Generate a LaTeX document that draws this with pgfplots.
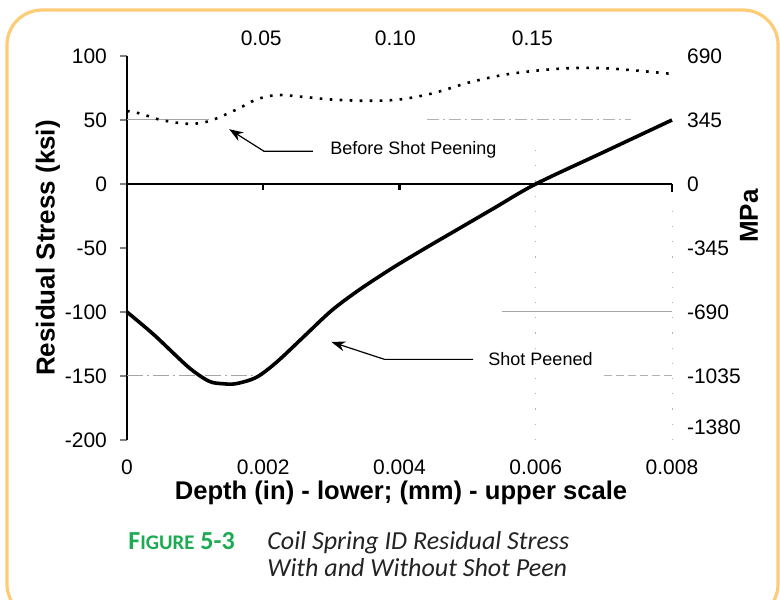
\documentclass[border=0pt]{standalone}
\usepackage{fontspec}
\setmainfont{Liberation Sans}
\newfontfamily\capfont{Carlito}
\usepackage{pgfplots}
\usepackage{pgfplotstable}
\pgfplotsset{compat=1.18}
\usetikzlibrary{arrows.meta}
\definecolor{framecol}{RGB}{254,204,118}
\definecolor{figgreen}{RGB}{28,170,82}
\definecolor{capgray}{RGB}{35,35,35}

% depth (in), residual stress (ksi)
\pgfplotstableread{
d s
0 -100
0.0004 -118
0.0009 -143
0.0012 -154
0.0014 -156
0.0016 -156
0.0019 -151
0.0022 -139
0.0026 -119
0.0030 -99
0.0034 -83
0.0039 -65.5
0.0044 -49.5
0.0049 -34
0.0054 -18.5
0.0060 0
0.0070 25
0.0080 50
}\peened

\pgfplotstableread{
d s
0 57
0.0002 55
0.0005 50
0.0009 47
0.0012 49
0.0016 58
0.0019 66
0.0022 69.5
0.0026 68
0.0030 66
0.0035 65
0.0040 66
0.0045 71
0.0050 79
0.0055 85
0.0060 88.5
0.0065 90.5
0.0070 90.5
0.0075 88.5
0.0080 86
}\before

\begin{document}
\begin{tikzpicture}[x=0.5pt,y=0.5pt]
\clip (0,0) rectangle (780,599);
\draw[framecol, line width=1.6pt, rounded corners=17.5pt] (7,-20) rectangle (778,589);

\begin{axis}[
  at={(63.5pt,79.5pt)}, anchor=south west,
  scale only axis, width=272.5pt, height=192pt,
  xmin=0, xmax=0.008, ymin=-200, ymax=100,
  clip=false, scaled x ticks=false, scaled y ticks=false,
  axis x line*=bottom, x axis line style={draw=none},
  axis y line*=left, y axis line style={line width=1.4pt},
  xtick={0,0.002,0.004,0.006,0.008},
  xticklabels={0,0.002,0.004,0.006,0.008},
  xtick style={draw=none},
  xticklabel style={yshift=-3pt},
  ytick={-200,-150,-100,-50,0,50,100},
  yticklabels={-200,-150,-100,-50,0,50,100},
  tick align=outside, major tick length=3.5pt,
  ytick style={line width=1.2pt},
  yticklabel style={xshift=-3pt},
  tick label style={font=\fontsize{10.5}{12}\selectfont},
  /pgf/number format/assume math mode=true,
]
% faint grid remnants of the scanned original
\addplot[gray!70, line width=0.5pt] coordinates {(0,50) (0.0012,50)};
\addplot[gray!60, line width=0.5pt, dash pattern=on 6pt off 2pt on 1pt off 2pt] coordinates {(0.0044,50) (0.0074,50)};
\addplot[gray!70, line width=0.5pt] coordinates {(0.0055,-100) (0.008,-100)};
\addplot[gray!70, line width=0.5pt, dash pattern=on 8pt off 2pt on 1pt off 2pt] coordinates {(0,-150) (0.002,-150)};
\addplot[gray!60, line width=0.5pt, dash pattern=on 4pt off 2pt] coordinates {(0.0070,-150) (0.008,-150)};
\addplot[gray!60, line width=0.5pt, dash pattern=on 0.6pt off 7pt] coordinates {(0.006,-200) (0.006,30)};
\addplot[gray!60, line width=0.5pt, dash pattern=on 0.6pt off 7pt] coordinates {(0.008,-200) (0.008,-10)};
% zero line and its ticks
\addplot[black, line width=1.4pt] coordinates {(0,0) (0.008,0)};
\addplot[black, line width=1.1pt, ycomb] coordinates {(0.002,-5) (0.004,-5) (0.008,-6)};
% data
\addplot[black, line width=1.3pt, dash pattern=on 1.3pt off 3.7pt, smooth] table[x=d, y=s] {\before};
\addplot[black, line width=1.8pt, smooth] table[x=d, y=s] {\peened};
% annotations
\draw[-{Stealth[length=7pt,width=5pt]}, line width=0.6pt]
  (axis cs:0.00273,25.6) -- (axis cs:0.00201,25.6) -- (axis cs:0.0015,42.8);
\node[anchor=west, inner sep=0pt, font=\fontsize{9}{10}\selectfont] at (axis cs:0.00298,26.5) {Before Shot Peening};
\draw[-{Stealth[length=7pt,width=5pt]}, line width=0.6pt]
  (axis cs:0.00508,-137) -- (axis cs:0.00378,-137) -- (axis cs:0.0030,-123.4);
\node[anchor=west, inner sep=0pt, font=\fontsize{9}{10}\selectfont] at (axis cs:0.0053,-136.5) {Shot Peened};
\end{axis}

% secondary scales: MPa on the right, mm on top
\begin{axis}[
  at={(63.5pt,79.5pt)}, anchor=south west,
  scale only axis, width=272.5pt, height=192pt,
  xmin=0, xmax=0.008, ymin=-200, ymax=100,
  scaled x ticks=false, scaled y ticks=false,
  axis x line*=top, x axis line style={draw=none},
  axis y line*=right, y axis line style={draw=none},
  xtick={0.00197,0.00394,0.00595},
  xticklabels={0.05,0.10,0.15},
  ytick={-190,-150,-100,-50,0,50,100},
  yticklabels={-1380,-1035,-690,-345,0,345,690},
  xtick style={draw=none}, ytick style={draw=none},
  yticklabel style={xshift=4pt},
  xticklabel style={yshift=1.5pt},
  tick label style={font=\fontsize{10.5}{12}\selectfont},
  /pgf/number format/assume math mode=true,
]
\addplot[draw=none] coordinates {(0,0)};
\end{axis}

% axis titles
\node[rotate=90, font=\bfseries\fontsize{13}{14}\selectfont] at (48,351) {Residual Stress (ksi)};
\node[rotate=90, font=\bfseries\fontsize{13}{14}\selectfont] at (749,383) {MPa};
\node[font=\bfseries\fontsize{12.8}{14}\selectfont] at (401,106) {Depth (in) - lower; (mm) - upper scale};

% caption
\node[anchor=base west, inner sep=0pt, text=figgreen, font=\capfont\bfseries]
  at (128,50) {\fontsize{13}{14}\selectfont F\fontsize{10.4}{12}\selectfont IGURE\fontsize{13}{14}\selectfont\ 5-3};
\node[anchor=base west, inner sep=0pt, text=capgray, font=\capfont\itshape\fontsize{13}{14}\selectfont]
  at (267,50) {Coil Spring ID Residual Stress};
\node[anchor=base west, inner sep=0pt, text=capgray, font=\capfont\itshape\fontsize{13}{14}\selectfont]
  at (267,23) {With and Without Shot Peen};
\end{tikzpicture}
\end{document}
